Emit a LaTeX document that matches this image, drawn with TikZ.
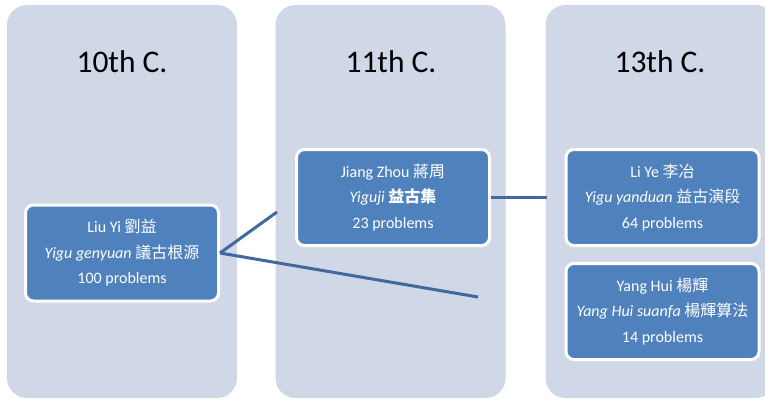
\documentclass[tikz,border=0pt]{standalone}
\usepackage{fontspec}
\setmainfont{Carlito}
\newfontfamily\cjk{Noto Sans CJK TC}
\definecolor{colfill}{HTML}{D0D8E8}
\definecolor{boxfill}{HTML}{4F81BD}
\definecolor{linkcol}{HTML}{41689F}
\begin{document}
\begin{tikzpicture}[x=1pt,y=-1pt,
  column/.style={fill=colfill, draw=none, rounded corners=20pt, minimum width=230pt, minimum height=393pt, inner sep=0pt},
  title/.style={anchor=base, font=\fontsize{31.5}{38}\selectfont, text=black},
  workbox/.style={fill=boxfill, draw=white, line width=3pt, rounded corners=8pt, minimum width=193pt, minimum height=96pt, inner sep=0pt, align=center, text=white, font=\fontsize{16}{25.5}\selectfont},
  link/.style={draw=linkcol, line width=3pt}]
\useasboundingbox (0,0) rectangle (765,399);
% columns
\node[column] (c1) at (122,201.5) {};
\node[column] (c2) at (390.5,201.5) {};
\node[column] (c3) at (660.5,201.5) {};
% titles
\node[title] (t1) at (122,72) {10th C.};
\node[title] (t2) at (391,72) {11th C.};
\node[title] (t3) at (660,72) {13th C.};
% boxes
\node[workbox] (b1) at (122,253) {Liu Yi {\cjk 劉益}\\\textit{Yigu genyuan} {\cjk 議古根源}\\100 problems};
\node[workbox] (b2) at (393,197.5) {Jiang Zhou {\cjk 蔣周}\\\textit{Yiguji} {\cjk\bfseries 益古集}\\23 problems};
\node[workbox] (b3) at (662.5,197.5) {Li Ye {\cjk 李冶}\\\textit{Yigu yanduan} {\cjk 益古演段}\\64 problems};
\node[workbox] (b4) at (662.5,311.5) {Yang Hui {\cjk 楊輝}\\\textit{Yang Hui suanfa} {\cjk 楊輝算法}\\14 problems};
% connector ends
\coordinate (e1) at (277,212);
\coordinate (e2) at (478,297);
\coordinate (e3) at (547,197.5);
% connectors
\draw[link] (b1.east) -- (e1);
\draw[link] (b1.east) -- (e2);
\draw[link] (b2.east) -- (e3);
\end{tikzpicture}
\end{document}
